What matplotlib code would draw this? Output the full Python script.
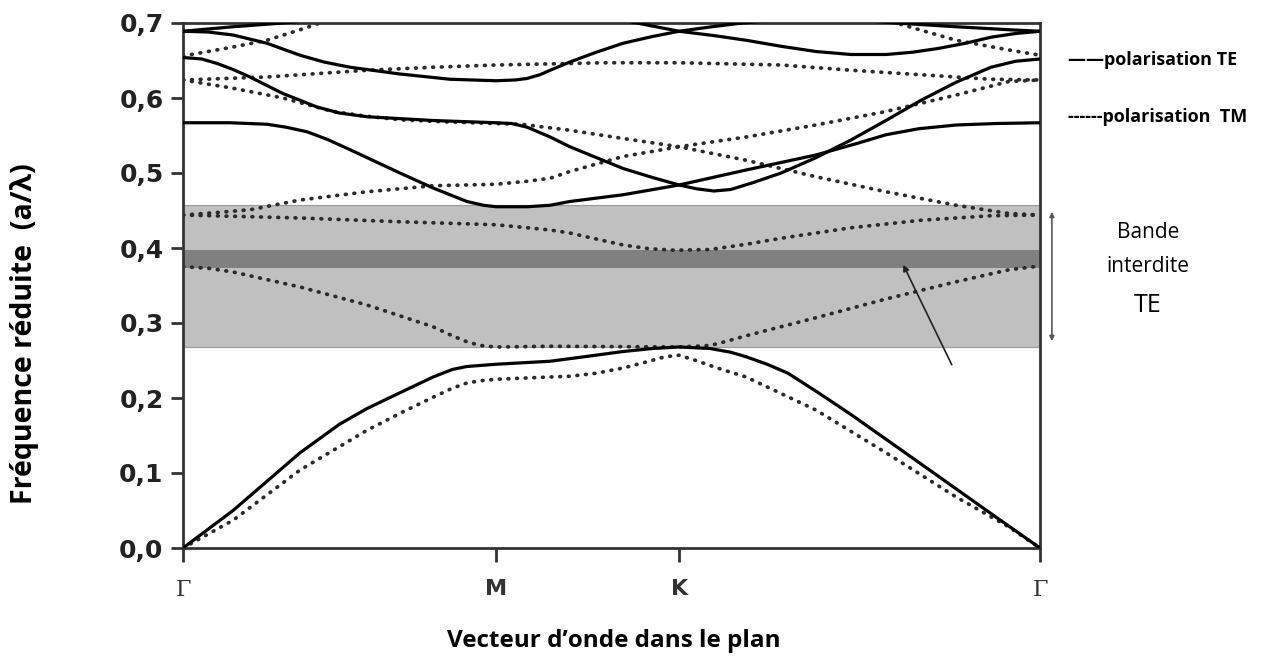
import matplotlib
matplotlib.use("Agg")
import matplotlib.pyplot as plt

plt.rcParams['font.family'] = ['Open Sans', 'DejaVu Sans']

# k-path positions (units of Gamma-M length)
kpts = [0.0, 1.0, 1.585, 2.738]
klabels = ['Γ', 'M', 'K', 'Γ']

yticks = [0.0, 0.1, 0.2, 0.3, 0.4, 0.5, 0.6, 0.7]
yticklabels = ['0,0', '0,1', '0,2', '0,3', '0,4', '0,5', '0,6', '0,7']

# TE bands (solid)
te1_x = [0, 0.160, 0.374, 0.50, 0.588, 0.693, 0.799, 0.86, 0.907, 1.0, 1.173, 1.300, 1.406, 1.50, 1.585, 1.684, 1.750, 1.799, 1.866, 1.933, 2.03, 2.134, 2.358, 2.581, 2.738]
te1_y = [0, 0.050, 0.127, 0.165, 0.186, 0.207, 0.228, 0.238, 0.242, 0.245, 0.249, 0.256, 0.262, 0.266, 0.268, 0.266, 0.261, 0.255, 0.245, 0.233, 0.207, 0.178, 0.112, 0.046, 0]
te2_x = [0, 0.15, 0.268, 0.33, 0.396, 0.46, 0.534, 0.693, 0.799, 0.907, 0.96, 1.0, 1.1, 1.173, 1.236, 1.406, 1.585, 1.799, 2.022, 2.15, 2.246, 2.35, 2.470, 2.6, 2.738]
te2_y = [0.567, 0.567, 0.565, 0.561, 0.555, 0.545, 0.531, 0.500, 0.480, 0.462, 0.457, 0.455, 0.455, 0.457, 0.462, 0.471, 0.484, 0.504, 0.524, 0.539, 0.551, 0.559, 0.564, 0.566, 0.567]
te3_x = [0, 0.06, 0.109, 0.16, 0.214, 0.319, 0.428, 0.5, 0.588, 0.799, 1.0, 1.05, 1.10, 1.173, 1.236, 1.406, 1.50, 1.585, 1.64, 1.696, 1.75, 1.82, 1.911, 2.02, 2.134, 2.25, 2.358, 2.47, 2.581, 2.66, 2.738]
te3_y = [0.654, 0.652, 0.646, 0.638, 0.628, 0.606, 0.588, 0.580, 0.575, 0.570, 0.567, 0.566, 0.561, 0.548, 0.535, 0.506, 0.494, 0.484, 0.479, 0.476, 0.478, 0.487, 0.500, 0.520, 0.544, 0.571, 0.597, 0.621, 0.641, 0.649, 0.652]
te4_x = [0, 0.08, 0.160, 0.268, 0.374, 0.45, 0.534, 0.693, 0.853, 1.0, 1.06, 1.099, 1.14, 1.173, 1.236, 1.32, 1.406, 1.50, 1.585, 1.69, 1.786, 2.030, 2.278, 2.470, 2.639, 2.738]
te4_y = [0.689, 0.688, 0.684, 0.673, 0.657, 0.648, 0.641, 0.632, 0.625, 0.623, 0.624, 0.626, 0.631, 0.637, 0.648, 0.661, 0.673, 0.682, 0.689, 0.695, 0.700, 0.708, 0.700, 0.695, 0.691, 0.689]
te5_x = [0, 0.160, 0.319, 0.7, 1.0, 1.3, 1.450, 1.585, 1.70, 1.799, 1.91, 2.022, 2.134, 2.246, 2.33, 2.412, 2.50, 2.581, 2.66, 2.738]
te5_y = [0.689, 0.695, 0.700, 0.715, 0.720, 0.712, 0.700, 0.689, 0.683, 0.677, 0.669, 0.662, 0.658, 0.658, 0.661, 0.666, 0.673, 0.681, 0.686, 0.689]

# TM bands (dotted)
tm1_x = [0, 0.160, 0.374, 0.588, 0.70, 0.799, 0.86, 0.907, 0.95, 1.0, 1.173, 1.236, 1.32, 1.406, 1.48, 1.540, 1.585, 1.639, 1.70, 1.799, 2.022, 2.246, 2.470, 2.639, 2.738]
tm1_y = [0, 0.037, 0.104, 0.157, 0.181, 0.201, 0.213, 0.220, 0.223, 0.225, 0.228, 0.229, 0.233, 0.240, 0.248, 0.255, 0.257, 0.250, 0.241, 0.228, 0.184, 0.127, 0.068, 0.028, 0]
tm2_x = [0, 0.08, 0.160, 0.374, 0.588, 0.799, 0.86, 0.907, 0.95, 1.0, 1.173, 1.585, 1.684, 1.74, 1.799, 2.022, 2.246, 2.470, 2.639, 2.738]
tm2_y = [0.375, 0.373, 0.368, 0.348, 0.324, 0.295, 0.283, 0.275, 0.270, 0.268, 0.269, 0.268, 0.270, 0.276, 0.283, 0.307, 0.332, 0.355, 0.371, 0.376]
tm3_x = [0, 0.374, 0.693, 1.0, 1.10, 1.173, 1.236, 1.32, 1.406, 1.49, 1.572, 1.684, 1.80, 1.911, 2.134, 2.358, 2.581, 2.738]
tm3_y = [0.444, 0.440, 0.435, 0.431, 0.427, 0.424, 0.420, 0.412, 0.404, 0.399, 0.397, 0.398, 0.405, 0.413, 0.427, 0.437, 0.443, 0.444]
tm4_x = [0, 0.1, 0.214, 0.374, 0.588, 0.799, 1.0, 1.10, 1.173, 1.236, 1.406, 1.585, 1.799, 2.022, 2.246, 2.470, 2.639, 2.738]
tm4_y = [0.444, 0.447, 0.451, 0.464, 0.475, 0.483, 0.485, 0.489, 0.493, 0.502, 0.522, 0.535, 0.517, 0.495, 0.475, 0.457, 0.446, 0.444]
tm5_x = [0, 0.160, 0.319, 0.479, 0.58, 0.693, 0.85, 1.0, 1.080, 1.236, 1.406, 1.585, 1.799, 2.022, 2.246, 2.470, 2.639, 2.738]
tm5_y = [0.624, 0.613, 0.600, 0.582, 0.576, 0.571, 0.568, 0.566, 0.565, 0.557, 0.546, 0.535, 0.548, 0.564, 0.582, 0.604, 0.622, 0.624]
tm6_x = [0, 0.268, 0.588, 0.799, 1.0, 1.348, 1.585, 1.911, 2.134, 2.358, 2.581, 2.738]
tm6_y = [0.624, 0.628, 0.637, 0.641, 0.644, 0.647, 0.647, 0.644, 0.637, 0.631, 0.625, 0.624]
tm7_x = [0, 0.160, 0.268, 0.374, 0.438, 0.700, 1.0, 1.585, 2.000, 2.278, 2.470, 2.639, 2.738]
tm7_y = [0.656, 0.668, 0.677, 0.691, 0.700, 0.730, 0.750, 0.760, 0.730, 0.700, 0.677, 0.664, 0.657]

gap_full = (0.268, 0.457)
gap_dark = (0.373, 0.397)

te_bands = [(te1_x, te1_y), (te2_x, te2_y), (te3_x, te3_y), (te4_x, te4_y), (te5_x, te5_y)]
tm_bands = [(tm1_x, tm1_y), (tm2_x, tm2_y), (tm3_x, tm3_y), (tm4_x, tm4_y),
            (tm5_x, tm5_y), (tm6_x, tm6_y), (tm7_x, tm7_y)]

fig = plt.figure(figsize=(12.65, 6.56), dpi=100)
ax = fig.add_axes([183/1265, 1-548/656, (1040-183)/1265, (548-23)/656])

ax.axhspan(gap_full[0], gap_full[1], facecolor='#c0c0c0', edgecolor='#9a9a9a', lw=0.8, zorder=0)
ax.axhspan(gap_dark[0], gap_dark[1], facecolor='#808080', edgecolor='none', zorder=0.5)

for x, y in tm_bands:
    ax.plot(x, y, color='#2a2a2a', lw=2.7, linestyle=(0, (0.2, 2.1)),
            dash_capstyle='round', solid_capstyle='round', zorder=2)
for x, y in te_bands:
    ax.plot(x, y, color='black', lw=2.3, solid_joinstyle='round', zorder=3)

ax.set_xlim(kpts[0], kpts[-1])
ax.set_ylim(0, 0.7)

for s in ax.spines.values():
    s.set_linewidth(2.0)
    s.set_color('#333333')

ax.set_yticks(yticks)
ax.set_yticklabels(yticklabels, fontsize=18, fontweight='bold', family='DejaVu Sans', color='#222222')
ax.tick_params(axis='y', direction='out', length=9, width=2, pad=5, color='#333333')
ax.set_xticks(kpts)
ax.set_xticklabels(klabels, fontsize=16)
ax.tick_params(axis='x', direction='out', length=10, width=2, pad=12, color='#333333')
for lab, txt in zip(ax.get_xticklabels(), klabels):
    if txt == 'Γ':
        lab.set_family('DejaVu Serif')
        lab.set_color('#333333')
    else:
        lab.set_family('DejaVu Sans')
        lab.set_fontweight('bold')
        lab.set_color('#333333')

# arrow pointing to the dark band
ax.annotate('', xy=(2.297, 0.381), xytext=(2.460, 0.241),
            arrowprops=dict(arrowstyle='-|>', color='#222222', lw=1.2, mutation_scale=9), zorder=4)
# double arrow spanning the gap (outside the axes)
ax.annotate('', xy=(2.776, 0.452), xytext=(2.776, 0.272), xycoords='data',
            arrowprops=dict(arrowstyle='<|-|>', color='#555555', lw=1.2, mutation_scale=7),
            annotation_clip=False)

fig.text(1148/1265, 1-233/656, 'Bande', ha='center', va='center', fontsize=15, family='Open Sans')
fig.text(1148/1265, 1-267/656, 'interdite', ha='center', va='center', fontsize=15, family='Open Sans')
fig.text(1148/1265, 1-305/656, 'TE', ha='center', va='center', fontsize=18, family='Open Sans')

fig.text(1068/1265, 1-60/656, '——polarisation TE', ha='left', va='center', fontsize=13,
         fontweight='bold', family='Open Sans')
fig.text(1068/1265, 1-117/656, '------polarisation  TM', ha='left', va='center', fontsize=13,
         fontweight='bold', family='Open Sans')

fig.text(25/1265, 1-504/656, 'Fréquence réduite  (a/λ)', rotation=90, ha='center', va='bottom',
         fontsize=20.5, fontweight='bold', family=['Open Sans', 'DejaVu Sans'])
fig.text(614/1265, 1-641/656, 'Vecteur d’onde dans le plan', ha='center', va='center',
         fontsize=17.5, fontweight='bold', family=['Open Sans', 'DejaVu Sans'])

fig.savefig('out.png', dpi=100)
